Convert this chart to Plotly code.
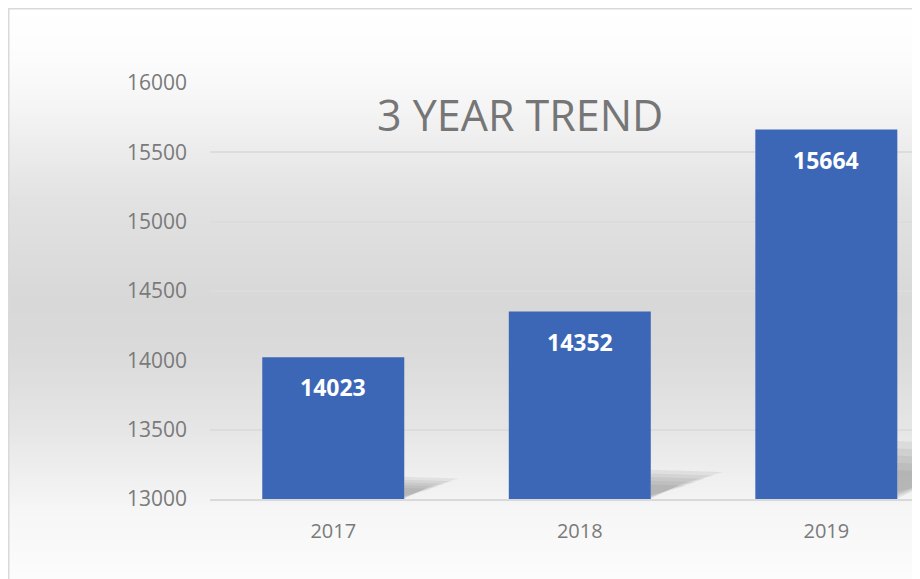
import plotly.graph_objects as go

years = ["2017", "2018", "2019"]
values = [14023, 14352, 15664]
y_ticks = [13000, 13500, 14000, 14500, 15000, 15500, 16000]
title_text = "3 YEAR TREND"

# the page shows the figure with an 8px body margin, so work in target pixels
OFF = 8
W, H = 920 - OFF, 579 - OFF
ML, MR, MT, MB = 210 - OFF, 0, 83 - OFF, 80
PW = W - ML - MR
PH = H - MT - MB
BARGAP = 0.424
BASE = y_ticks[0]


def px_to_paper_x(px):
    return (px - OFF - ML) / PW


def px_to_paper_y(py):
    return (H - MB - (py - OFF)) / PH


# background gradient (grey level by target pixel row)
stops = [(8, 255), (60, 252), (110, 244), (200, 226), (300, 216), (350, 218),
         (420, 228), (480, 240), (510, 246), (579, 252)]


def grey_at(py):
    for (a, ga), (b, gb) in zip(stops[:-1], stops[1:]):
        if a <= py <= b:
            t = (py - a) / (b - a)
            return ga + (gb - ga) * t
    return stops[-1][1]


shapes = []
step = 3
py = 8
while py < 579:
    g = int(round(grey_at(py + step / 2)))
    shapes.append(dict(
        type="rect", xref="paper", yref="paper", layer="below",
        x0=px_to_paper_x(8), x1=px_to_paper_x(940),
        y0=px_to_paper_y(min(py + step + 0.5, 590)), y1=px_to_paper_y(py),
        line=dict(width=0), fillcolor=f"rgb({g},{g},{g})",
    ))
    py += step

# soft bar shadows (derived from each bar's value), layered to fake a blur
half = (1 - BARGAP) / 2
for i, v in enumerate(values):
    h = v - BASE
    xr = i + half
    L = h * 0.00018
    for s in [1.2, 1.05, 0.9, 0.75, 0.6]:
        top = BASE + 0.13 * h * s
        tipy = BASE + 0.12 * h * s
        midy = BASE + 0.07 * h * s
        bot = BASE + max(0.03 * h * (1.25 - s), 4)
        path = (f"M {xr},{bot} L {xr},{top} "
                f"L {xr + L * s},{tipy} L {xr + 0.45 * L * s},{midy} Z")
        shapes.append(dict(
            type="path", xref="x", yref="y", layer="below", path=path,
            line=dict(width=0), fillcolor="rgba(110,110,110,0.11)",
        ))

# chart border
shapes.append(dict(
    type="rect", xref="paper", yref="paper", layer="below",
    x0=px_to_paper_x(8.75), x1=px_to_paper_x(950),
    y0=px_to_paper_y(600), y1=px_to_paper_y(8.75),
    line=dict(width=1.5, color="#d9d9d9"), fillcolor="rgba(0,0,0,0)",
))

fig = go.Figure()
fig.add_trace(go.Bar(
    x=years, y=values,
    marker=dict(color="#3C67B7", line=dict(width=0)),
    hoverinfo="skip",
))

annotations = []
for i, v in enumerate(values):
    annotations.append(dict(
        x=i, y=v, xref="x", yref="y", text=f"<b>{v}</b>", showarrow=False,
        xanchor="center", yanchor="middle",
        yshift=-30, font=dict(family="Open Sans", size=23, color="white"),
    ))
annotations.append(dict(
    x=px_to_paper_x(520), y=px_to_paper_y(115), xref="paper", yref="paper",
    xanchor="center", yanchor="middle",
    text=title_text, showarrow=False,
    font=dict(family="Open Sans", size=43, color="#767676"),
))

fig.update_layout(
    width=W, height=H,
    margin=dict(l=ML, r=MR, t=MT, b=MB, pad=0),
    paper_bgcolor="white",
    plot_bgcolor="rgba(0,0,0,0)",
    showlegend=False,
    bargap=BARGAP,
    shapes=shapes,
    annotations=annotations,
    xaxis=dict(
        type="category", range=[-0.5, 2.38],
        showgrid=False, showline=True, linecolor="#d9d9d9", linewidth=1.5,
        ticks="", ticklabelstandoff=13,
        tickfont=dict(family="Open Sans", size=20, color="#7a7a7a"),
        fixedrange=True,
    ),
    yaxis=dict(
        range=[13000, 16000], tickvals=y_ticks,
        ticktext=[str(t) for t in y_ticks],
        showgrid=True, gridcolor="#dcdcdc", gridwidth=1.5,
        zeroline=False, showline=False, ticks="", ticklabelstandoff=22,
        tickfont=dict(family="Open Sans", size=21, color="#7a7a7a"),
        fixedrange=True,
    ),
)

fig.write_html("out.html", config={"displayModeBar": False})
